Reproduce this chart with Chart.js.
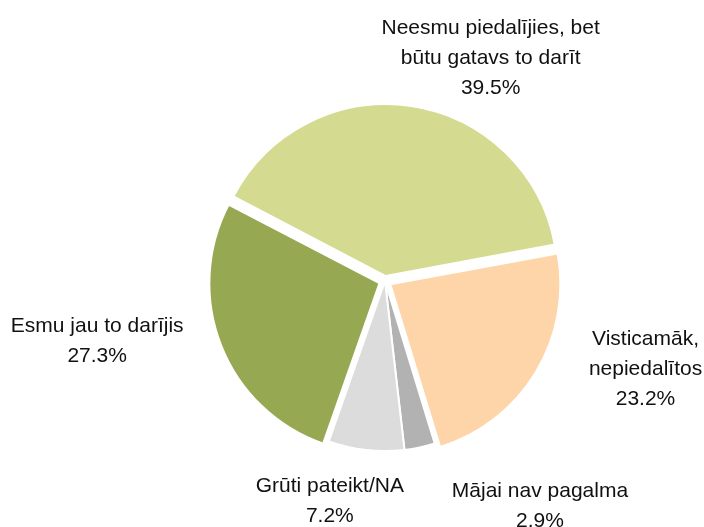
<!DOCTYPE html>
<html>
<head>
<meta charset="utf-8">
<script src="https://cdn.jsdelivr.net/npm/chart.js@4"></script>
<style>
  html, body { margin: 0; padding: 0; background: #fff; }
  #wrap { width: 704px; height: 527px; }
</style>
</head>
<body>
<div id="wrap"><canvas id="myChart" width="704" height="527"></canvas></div>
<script>
// data
var categories = [
    ['Neesmu piedalījies, bet', 'būtu gatavs to darīt'],
    ['Visticamāk,', 'nepiedalītos'],
    ['Mājai nav pagalma'],
    ['Grūti pateikt/NA'],
    ['Esmu jau to darījis']
];
var shares = [39.5, 23.2, 2.9, 7.2, 27.3];

// styles
var sliceColors = ['#d4da8f', '#fed5a8', '#b2b2b2', '#dcdcdc', '#97a852'];
var sliceOffsets = [20, 25, 0, 0, 24];
var labelDist = [247, 275, 273, 227, 294];   // from centre to label block centre
var labelTurn = [16.8, -12.6, -22.8, 7.7, 9.8]; // degrees away from slice mid-angle

var pieLabels = {
    id: 'pieLabels',
    afterDatasetsDraw: function(chart) {
        var ctx = chart.ctx;
        var meta = chart.getDatasetMeta(0);
        ctx.save();
        ctx.fillStyle = '#111';
        ctx.font = '21px "Liberation Sans", Arial, sans-serif';
        ctx.textAlign = 'center';
        ctx.textBaseline = 'middle';
        var lineH = 30;
        meta.data.forEach(function(arc, i) {
            var mid = (arc.startAngle + arc.endAngle) / 2 + labelTurn[i] * Math.PI / 180;
            var cx = arc.x + Math.cos(mid) * labelDist[i];
            var cy = arc.y + Math.sin(mid) * labelDist[i];
            var lines = categories[i].concat([shares[i].toFixed(1) + '%']);
            var top = cy - (lines.length - 1) * lineH / 2;
            lines.forEach(function(t, j) {
                ctx.fillText(t, cx, top + j * lineH);
            });
        });
        ctx.restore();
    }
};

var myChart = new Chart(
    document.getElementById('myChart'),
    {
        type: 'pie',
        data: {
            labels: categories.map(function(c) { return c.join(' '); }),
            datasets: [{
                data: shares,
                backgroundColor: sliceColors,
                borderColor: '#ffffff',
                borderWidth: 2,
                offset: sliceOffsets,
                radius: 170
            }]
        },
        options: {
            responsive: false,
            animation: false,
            rotation: -62.5,
            layout: { padding: { left: 66, right: 0, top: 35, bottom: 0 } },
            plugins: {
                legend: { display: false },
                tooltip: { enabled: false }
            }
        },
        plugins: [pieLabels]
    }
);
</script>
</body>
</html>
